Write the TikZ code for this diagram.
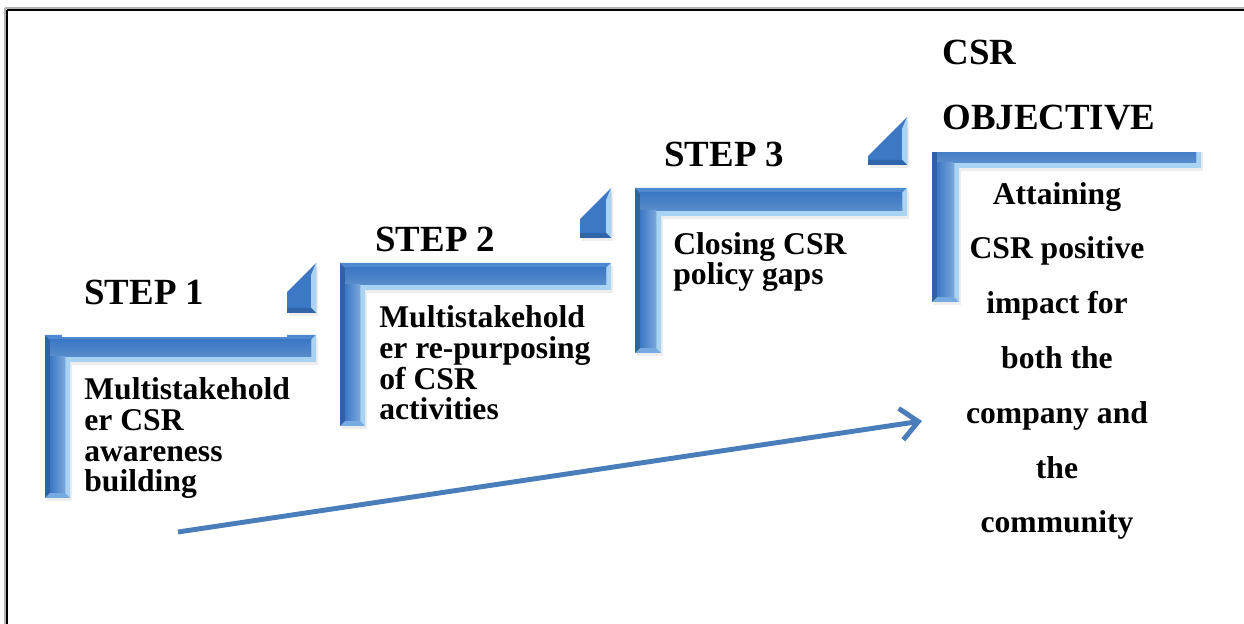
\documentclass[tikz,border=0pt]{standalone}
\usepackage{fontspec}
\setmainfont{Liberation Serif}
\usetikzlibrary{arrows.meta}

\definecolor{barMid}{HTML}{3C78C3}
\definecolor{barDark}{HTML}{2E62A6}
\definecolor{barTop}{HTML}{4F89D0}
\definecolor{barLight}{HTML}{A9D3F3}
\definecolor{barEnd}{HTML}{78AAE2}
\definecolor{arrowBlue}{HTML}{4A7EBB}

% Bevelled L-shaped stair bar:
% #1,#2 outer corner, #3 right end, #4 bottom end, #5 horizontal thickness, #6 vertical thickness
\newcommand\stairbar[6]{%
  \fill[black,opacity=0.07] (#1+2,#2+3) -- (#3+2,#2+3) -- (#3+2,#2+#5+3) -- (#1+#6+2,#2+#5+3)
       -- (#1+#6+2,#4+3) -- (#1+2,#4+3) -- cycle;
  \fill[barTop] (#1,#2) -- (#3,#2) -- (#3-5,#2+5) -- (#1+5,#2+5) -- cycle;
  \fill[barLight] (#3,#2) -- (#3,#2+#5) -- (#3-5,#2+#5-5) -- (#3-5,#2+5) -- cycle;
  \fill[barLight] (#3,#2+#5) -- (#1+#6,#2+#5) -- (#1+#6-5,#2+#5-5) -- (#3-5,#2+#5-5) -- cycle;
  \fill[barLight] (#1+#6,#2+#5) -- (#1+#6,#4) -- (#1+#6-5,#4-5) -- (#1+#6-5,#2+#5-5) -- cycle;
  \fill[barEnd] (#1+#6,#4) -- (#1,#4) -- (#1+5,#4-5) -- (#1+#6-5,#4-5) -- cycle;
  \fill[barDark] (#1,#4) -- (#1,#2) -- (#1+5,#2+5) -- (#1+5,#4-5) -- cycle;
  \fill[barMid] (#1+5,#2+5) -- (#3-5,#2+5) -- (#3-5,#2+#5-5) -- (#1+#6-5,#2+#5-5)
       -- (#1+#6-5,#4-5) -- (#1+5,#4-5) -- cycle;
  \shade[top color=barMid, bottom color=barMid!85!white] (#1+5,#2+5) rectangle (#3-5,#2+#5-5);
  \shade[left color=barMid, right color=barTop!75!white] (#1+5,#2+#5-5) rectangle (#1+#6-5,#4-5);
}

% Bevelled wedge above each step: #1 left cut x, #2 bottom y, #3 right x, #4 apex y
\newcommand\stairtip[4]{%
  \fill[black,opacity=0.07] (#1+2,#2+3) -- (#1+2,#4+#3-#1+3) -- (#3+2,#4+3) -- (#3+2,#2+3) -- cycle;
  \fill[barMid] (#1,#2) -- (#1,#4+#3-#1) -- (#3,#4) -- (#3,#2) -- cycle;
  \fill[barLight] (#3,#4) -- (#3,#2) -- (#3-5,#2-5) -- (#3-5,#4+12) -- cycle;
  \fill[barDark!85!barMid] (#1,#2) -- (#3,#2) -- (#3-5,#2-5) -- (#1,#2-5) -- cycle;
}

\tikzset{
  heading/.style={font=\fontsize{21}{24}\selectfont\bfseries, inner sep=0pt, anchor=base west},
  body/.style={font=\fontsize{18}{17.6}\selectfont\bfseries, inner sep=0pt, align=left, anchor=base west},
  goal/.style={font=\fontsize{18}{31.2}\selectfont\bfseries, inner sep=0pt, align=center, anchor=base},
  trend/.style={draw=arrowBlue, line width=2.8pt, -{Straight Barb[length=10pt,width=18pt,line width=2.8pt]}},
}

\begin{document}
\begin{tikzpicture}[x=0.02cm,y=-0.02cm]
\useasboundingbox (0,0) rectangle (1244,624);

% frame
\draw[gray!60, line width=1pt] (5,8) -- (1250,8);
\draw[gray!60, line width=1pt] (5,8) -- (5,630);
\draw[black, line width=1.6pt] (7,10) -- (1250,10);
\draw[black, line width=1.6pt] (7,10) -- (7,630);

% stair bars
\stairbar{45}{335}{316}{498}{27}{25}
\fill[white] (62,328) rectangle (287,337);
\stairtip{287}{313}{316}{263}

\stairbar{340}{263}{611}{426}{27}{25}
\stairtip{580}{238}{611}{188}

\stairbar{635}{188}{907}{353}{28}{26}
\stairtip{868}{165}{907}{117}

\begin{scope}
  \clip (920,153) rectangle (1215,330);
  \stairbar{932}{141}{1201}{302}{27}{27}
\end{scope}

% headings
\node[heading] (s1) at (84,305) {STEP 1};
\node[heading] (s2) at (375,252) {STEP 2};
\node[heading] (s3) at (664,167) {STEP 3};
\node[heading] (s4a) at (942,65) {CSR};
\node[heading] (s4b) at (942,130) {OBJECTIVE};

% step descriptions (anchored at the baseline of their last line)
\node[body] (t1) at (84,492) {Multistakehold\\er CSR\\awareness\\building};
\node[body] (t2) at (379,420) {Multistakehold\\er re-purposing\\of CSR\\activities};
\node[body] (t3) at (673,285) {Closing CSR\\policy gaps};
\node[goal] (t4) at (1057,533) {Attaining\\CSR positive\\impact for\\both the\\company and\\the\\community};

% rising trend arrow
\coordinate (arrS) at (178,532);
\coordinate (arrE) at (922,421);
\draw[trend] (arrS) -- (arrE);
\end{tikzpicture}
\end{document}
